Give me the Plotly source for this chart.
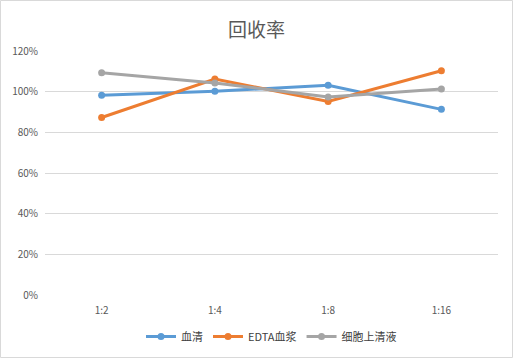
import plotly.graph_objects as go

categories = ["1:2", "1:4", "1:8", "1:16"]
serum = [98.2, 100.2, 103.1, 91.3]
edta_plasma = [87.3, 106.2, 95.2, 110.3]
cell_supernatant = [109.3, 104.3, 97.4, 101.3]
series_names = ["血清", "EDTA血浆", "细胞上清液"]
colors = ["#5b9bd5", "#ed7d31", "#a5a5a5"]
tick_vals = [0, 20, 40, 60, 80, 100, 120]
tick_text = ["0%", "20%", "40%", "60%", "80%", "100%", "120%"]

font_family = "Noto Sans CJK SC, Noto Sans, sans-serif"

fig = go.Figure()
for name, vals, c in zip(series_names, [serum, edta_plasma, cell_supernatant], colors):
    fig.add_trace(go.Scatter(
        x=categories, y=vals, name=name, mode="lines+markers",
        line=dict(color=c, width=3), marker=dict(color=c, size=7),
    ))

fig.update_layout(
    template="none",
    width=513, height=358,
    paper_bgcolor="white", plot_bgcolor="white",
    margin=dict(l=45, r=15, t=51, b=63, autoexpand=False),
    title=dict(text="回收率", x=0.5, xanchor="center", y=0.915, yanchor="middle",
               font=dict(family=font_family, size=19, color="#595959")),
    font=dict(family=font_family, size=10, color="#595959"),
    showlegend=True,
    legend=dict(orientation="h", x=0.5, xanchor="center", y=-0.17, yanchor="middle",
                font=dict(size=11, color="#404040"), itemwidth=30, tracegroupgap=0,
                bgcolor="rgba(0,0,0,0)"),
    xaxis=dict(type="category", showgrid=False, zeroline=False, showline=False,
               automargin=False,
               ticks="outside", ticklen=6, tickcolor="rgba(0,0,0,0)",
               tickfont=dict(size=10, color="#595959"), range=[-0.5, 3.5]),
    yaxis=dict(range=[0, 120], tickvals=tick_vals, ticktext=tick_text,
               automargin=False,
               showgrid=True, gridcolor="#d9d9d9", gridwidth=1, zeroline=False,
               showline=False, ticks="outside", ticklen=4, tickcolor="rgba(0,0,0,0)",
               tickfont=dict(size=10, color="#595959")),
    shapes=[dict(type="rect", xref="paper", yref="paper", x0=-44.5/453, x1=1+14.5/453,
                 y0=-62.5/244, y1=1+50.5/244, line=dict(color="#d9d9d9", width=1))],
)

fig.write_html("out.html", config={"displayModeBar": False},
               post_script="document.body.style.margin='0';document.body.style.overflow='hidden';")
